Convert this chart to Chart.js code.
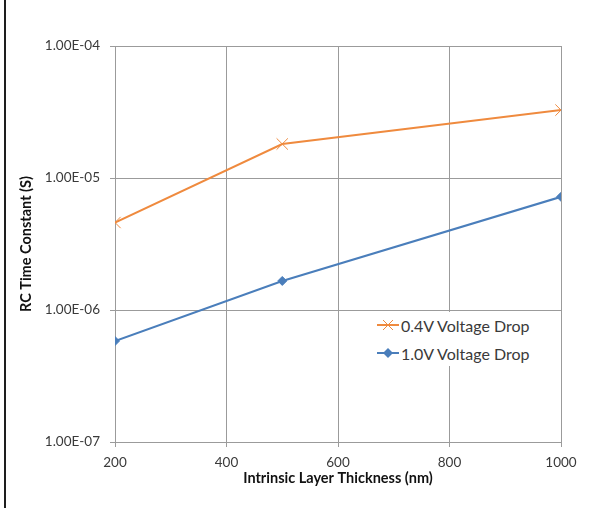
<!DOCTYPE html>
<html>
<head>
<meta charset="utf-8">
<script src="https://cdn.jsdelivr.net/npm/chart.js@4.4.1/dist/chart.umd.min.js"></script>
<style>
  html, body { margin: 0; padding: 0; background: #ffffff; }
  #wrap { position: relative; width: 604px; height: 508px; }
  #legend {
    position: absolute; left: 346px; top: 312px; width: 208px; height: 54px;
    background: #ffffff; font-family: Lato, sans-serif; font-size: 16px; color: #3a3a3a;
  }
  .row { position: absolute; left: 30px; height: 20px; display: flex; align-items: center; white-space: nowrap; }
  .row svg { display: block; margin-right: 1px; }
</style>
</head>
<body>
<div id="wrap">
  <canvas id="c" width="604" height="508"></canvas>
  <div id="legend"></div>
</div>
<script>
// ---- data ----
const thickness = [200, 500, 1000];
const rc04 = [4.6e-6, 1.81e-5, 3.27e-5];
const rc10 = [5.82e-7, 1.66e-6, 7.2e-6];
const seriesNames = ['0.4V Voltage Drop', '1.0V Voltage Drop'];
const xTicks = [200, 400, 600, 800, 1000];
const yTicks = [1e-7, 1e-6, 1e-5, 1e-4];
const yTickLabels = ['1.00E-07', '1.00E-06', '1.00E-05', '1.00E-04'];
const xTitle = 'Intrinsic Layer Thickness (nm)';
const yTitle = 'RC Time Constant (S)';

const ORANGE = '#EF8A3E';
const BLUE = '#4A7EBB';
const GRID = '#9b9b9b';

const toPts = (xs, ys) => xs.map((x, i) => ({ x: x, y: ys[i] }));

const framePlugin = {
  id: 'frame',
  beforeDraw(chart) {
    const ctx = chart.ctx;
    ctx.save();
    ctx.fillStyle = '#1e1e1e';
    ctx.fillRect(4, 0, 2, 508);
    ctx.restore();
  }
};

new Chart(document.getElementById('c'), {
  type: 'line',
  data: {
    datasets: [
      {
        label: seriesNames[0],
        data: toPts(thickness, rc04),
        borderColor: ORANGE, backgroundColor: ORANGE,
        borderWidth: 2, tension: 0,
        pointStyle: 'crossRot', pointRadius: 8, pointBorderWidth: 1,
        pointBorderColor: ORANGE
      },
      {
        label: seriesNames[1],
        data: toPts(thickness, rc10),
        borderColor: BLUE, backgroundColor: BLUE,
        borderWidth: 2, tension: 0,
        pointStyle: 'rectRot', pointRadius: 4.5, pointBorderWidth: 1,
        pointBorderColor: BLUE
      }
    ]
  },
  options: {
    responsive: false,
    animation: false,
    layout: { padding: { top: 46, right: 43, left: 0, bottom: 0 } },
    plugins: { legend: { display: false }, tooltip: { enabled: false } },
    scales: {
      x: {
        type: 'linear', min: 200, max: 1000,
        afterFit(s) { s.height = 66; },
        afterBuildTicks(s) { s.ticks = xTicks.map(v => ({ value: v })); },
        ticks: {
          font: { family: 'Lato', size: 13.5 }, color: '#3a3a3a', padding: 8,
          maxRotation: 0, callback: (v) => String(v)
        },
        grid: { color: GRID, lineWidth: 1, tickLength: 5, tickColor: GRID, drawTicks: true },
        border: { color: GRID, width: 1 },
        title: {
          display: true, text: xTitle, color: '#111111',
          font: { family: 'Lato', size: 14.5, weight: 'bold' },
          padding: { top: 0, bottom: 21 }
        }
      },
      y: {
        type: 'logarithmic', min: 1e-7, max: 1e-4,
        afterFit(s) { s.width = 115; },
        afterBuildTicks(s) { s.ticks = yTicks.map(v => ({ value: v })); },
        ticks: {
          font: { family: 'Lato', size: 13.5 }, color: '#3a3a3a', padding: 10,
          callback: (v) => { const i = yTicks.findIndex(t => Math.abs(t - v) / t < 1e-6); return i >= 0 ? yTickLabels[i] : ''; }
        },
        grid: { color: GRID, lineWidth: 1, tickLength: 5, tickColor: GRID, drawTicks: true },
        border: { color: GRID, width: 1 },
        title: {
          display: true, text: yTitle, color: '#111111',
          font: { family: 'Lato', size: 14.5, weight: 'bold' },
          padding: { top: 18, bottom: 0 }
        }
      }
    }
  },
  plugins: [framePlugin]
});

// HTML legend built from series names
const legend = document.getElementById('legend');
const markerSvg = [
  '<svg width="24" height="14"><line x1="1" y1="7" x2="23" y2="7" stroke="' + ORANGE + '" stroke-width="2"/>' +
  '<line x1="7" y1="2" x2="17" y2="12" stroke="' + ORANGE + '" stroke-width="1"/><line x1="17" y1="2" x2="7" y2="12" stroke="' + ORANGE + '" stroke-width="1"/></svg>',
  '<svg width="24" height="14"><line x1="1" y1="7" x2="23" y2="7" stroke="' + BLUE + '" stroke-width="2"/>' +
  '<polygon points="12,2 17,7 12,12 7,7" fill="' + BLUE + '"/></svg>'
];
const rowTops = [3, 31];
seriesNames.forEach((n, i) => {
  const r = document.createElement('div');
  r.className = 'row';
  r.style.top = rowTops[i] + 'px';
  r.innerHTML = markerSvg[i] + '<span>' + n + '</span>';
  legend.appendChild(r);
});
</script>
</body>
</html>
